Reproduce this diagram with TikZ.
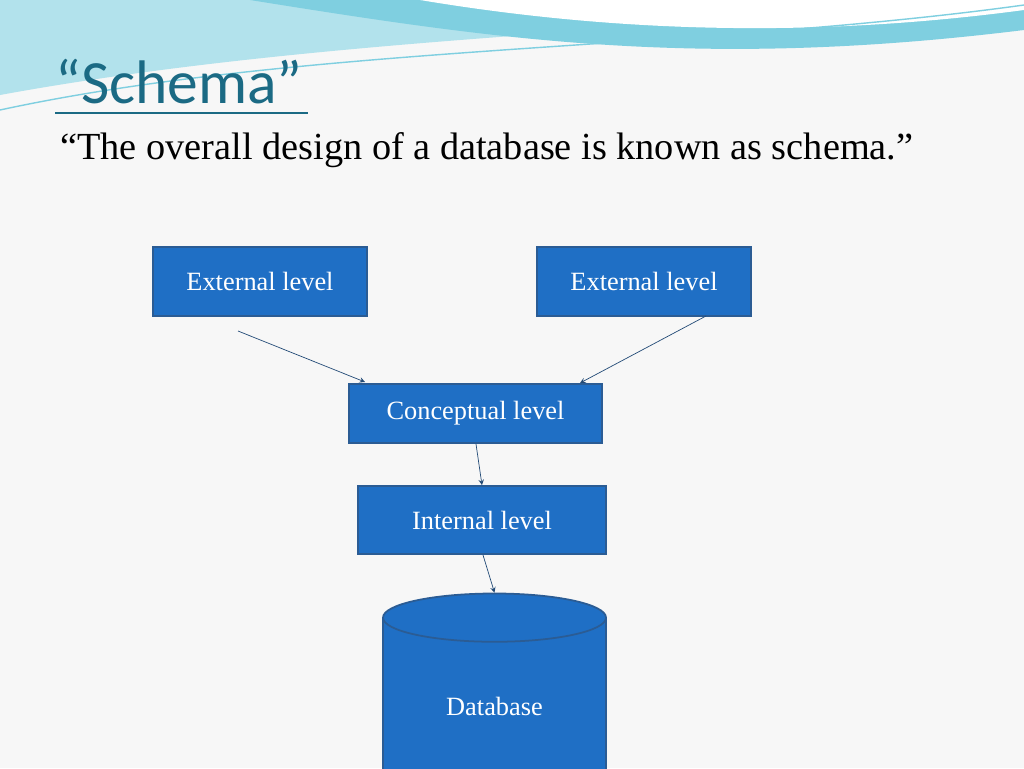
\documentclass[tikz,border=0pt]{standalone}
\usepackage{fontspec}
\setmainfont{Liberation Serif}
\newfontfamily\titlefont{Carlito}
\usetikzlibrary{shapes.geometric, arrows, positioning}
\definecolor{boxblue}{HTML}{1F6FC5}
\definecolor{boxedge}{HTML}{2B5C94}
\definecolor{titleteal}{HTML}{1B6A84}
\definecolor{wave}{HTML}{7FCFE0}
\tikzstyle{level} = [rectangle, fill=boxblue, draw=boxedge, line width=1pt, text=white, font=\fontsize{15}{17}\selectfont, inner sep=0pt]
\tikzstyle{arrow} = [thin,->,>=stealth,draw=boxedge!80!black]

\begin{document}
\begin{tikzpicture}[x=0.02cm, y=-0.02cm]
        \useasboundingbox[fill=gray!6] (0,0) rectangle (1024,768);
        % waves at the top
        \fill[wave!60] (0,0) -- (0,95) .. controls (300,40) and (650,30) .. (1024,0) -- cycle;
        \fill[wave] (250,0) .. controls (500,40) and (700,70) .. (1024,30) -- (1024,0) -- cycle;
        \fill[white] (420,0) .. controls (600,30) and (800,40) .. (1024,10) -- (1024,0) -- cycle;
        \draw[wave, thick] (0,110) .. controls (300,45) and (700,50) .. (1024,5);

        \node (title) [anchor=south west, text=titleteal, font=\titlefont\fontsize{35}{37}\selectfont, inner sep=0pt] at (55,104) {“Schema”};
        \draw[titleteal, line width=1.5pt] (55,113) -- (308,113);
        \node (def) [anchor=south west, inner sep=0pt, font=\fontsize{21.8}{24}\selectfont] at (60,168) {“The overall design of a database is known as schema.”};

        \node (ext1) [level, minimum width=214*0.02cm, minimum height=69*0.02cm] at (260,281.5) {External level};
        \node (ext2) [level, minimum width=214*0.02cm, minimum height=69*0.02cm] at (644,281.5) {External level};
        \node (concept) [level, minimum width=253*0.02cm, minimum height=59*0.02cm] at (475.5,413.5) {Conceptual level};
        \node (intern) [level, minimum width=248*0.02cm, minimum height=68*0.02cm] at (482,520) {Internal level};
        \node (db) [level, cylinder, shape border rotate=90, aspect=0.5, minimum width=223*0.02cm, minimum height=200*0.02cm] at (494.5,706) {Database};

        \coordinate (e1out) at (238,331);
        \coordinate (c1in) at (365,382);
        \coordinate (e2out) at (706,316);
        \coordinate (c2in) at (580,383);
        \coordinate (cout) at (476,444);
        \coordinate (iout) at (483,555);
        \draw[arrow] (e1out) -- (c1in);
        \draw[arrow] (e2out) -- (c2in);
        \draw[arrow] (cout) -- (intern.north);
        \draw[arrow] (iout) -- (db.north);
\end{tikzpicture}
\end{document}
